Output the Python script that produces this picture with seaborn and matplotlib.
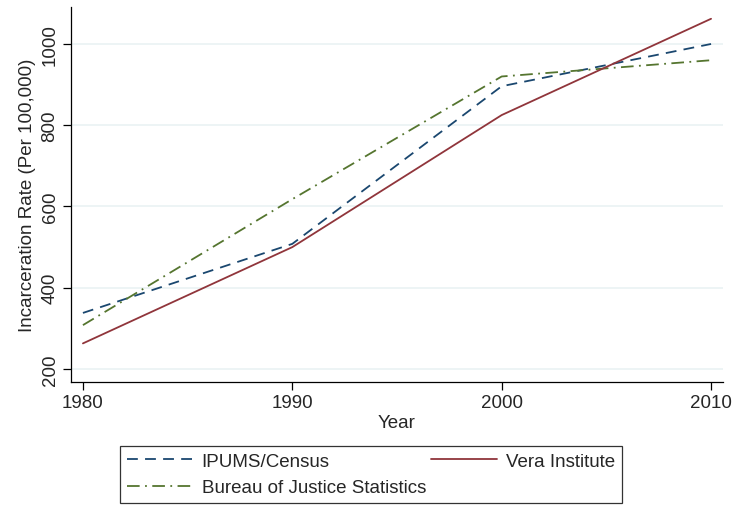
import matplotlib
matplotlib.use("Agg")
import matplotlib.pyplot as plt
import seaborn as sns
import pandas as pd

years = [1980, 1990, 2000, 2010]
ipums = [338, 508, 896, 1000]
vera = [263, 500, 825, 1062]
bjs = [308, 618, 920, 960]
series_names = ["IPUMS/Census", "Vera Institute", "Bureau of Justice Statistics"]
yticks = [200, 400, 600, 800, 1000]
xticks = [1980, 1990, 2000, 2010]

sns.set_theme(style="white")
plt.rcParams['font.family'] = ['Liberation Sans', 'DejaVu Sans']

fig = plt.figure(figsize=(7.34, 5.06), dpi=100)
ax = fig.add_axes([71/734, 1-383/506, (723-71)/734, (383-8)/506])

colors = {"IPUMS/Census": "#1a476f", "Vera Institute": "#90353b",
          "Bureau of Justice Statistics": "#55752f"}
dashes = {"IPUMS/Census": (6, 4), "Vera Institute": (None, None),
          "Bureau of Justice Statistics": (7, 3, 1, 3)}

data = {"IPUMS/Census": ipums, "Vera Institute": vera,
        "Bureau of Justice Statistics": bjs}
handles = {}
for name in ["IPUMS/Census", "Bureau of Justice Statistics", "Vera Institute"]:
    df = pd.DataFrame({"Year": years, "Rate": data[name]})
    sns.lineplot(data=df, x="Year", y="Rate", ax=ax, color=colors[name], lw=1.3,
                 label=name, legend=False)
    line = ax.lines[-1]
    if dashes[name][0] is not None:
        line.set_dashes(dashes[name])
    handles[name] = line

ax.set_xlim(1979.43, 2010.57)
ax.set_ylim(168, 1091)
ax.set_xticks(xticks)
ax.set_yticks(yticks)
ax.tick_params(axis='both', labelsize=13.5, length=6, width=0.9, color='black',
               direction='out', left=True, bottom=True, pad=3)
for lbl in ax.get_yticklabels():
    lbl.set_rotation(90)
    lbl.set_va('center')
ax.yaxis.grid(True, color='#eaf2f3', lw=1.2)
ax.set_axisbelow(True)
for s in ['top', 'right']:
    ax.spines[s].set_visible(False)
for s in ['left', 'bottom']:
    ax.spines[s].set_color('black')
    ax.spines[s].set_linewidth(0.9)
ax.set_xlabel("Year", fontsize=13.5, labelpad=2)
ax.set_ylabel("Incarceration Rate (Per 100,000)", fontsize=13.5, labelpad=4)

order = ["IPUMS/Census", "Bureau of Justice Statistics", "Vera Institute"]
leg = fig.legend([handles[n] for n in order], order, ncol=2, mode="expand",
                 loc="lower left",
                 bbox_to_anchor=(120/734, 2/506, (622-120)/734, 60/506),
                 fontsize=13.5, frameon=True, fancybox=False, handlelength=3.5,
                 handletextpad=0.5, columnspacing=3.0,
                 borderaxespad=0, borderpad=0.35, labelspacing=0.5)
leg.get_frame().set_edgecolor('black')
leg.get_frame().set_linewidth(0.9)

fig.savefig("out.png", dpi=100, facecolor='white')
